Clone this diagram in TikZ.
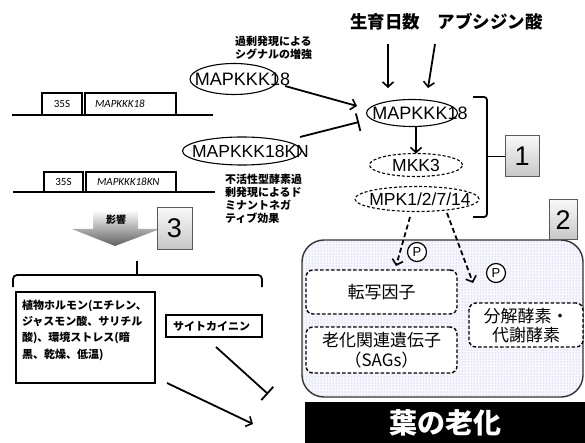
\documentclass[tikz,border=0pt]{standalone}
\usepackage{fontspec}
\setmainfont{Liberation Sans}
\newfontfamily\jp{Noto Sans CJK JP}
\newfontfamily\calf{Carlito}
\usetikzlibrary{arrows.meta,shapes.geometric,patterns}
\begin{document}
\begin{tikzpicture}[x=1pt,y=-1pt,
  every node/.style={inner sep=0pt,outer sep=0pt},
  arr/.style={line width=1.8pt,-{Straight Barb[length=5pt,width=11pt,line width=1.6pt]}},
  inh/.style={line width=1.8pt,-{Bar[width=18pt,line width=1.8pt]}},
  darr/.style={arr,dash pattern=on 5pt off 3pt},
  ell/.style={draw,ellipse,line width=1.1pt},
  dell/.style={ell,dash pattern=on 3pt off 2pt},
  numbox/.style={draw=black!65,line width=1pt,top color=gray!5,bottom color=gray!45,font=\fontsize{27}{27}\selectfont},
  gbox/.style={draw,line width=1.5pt,fill=white},
  gtxt/.style={font=\calf\fontsize{11}{11}\selectfont},
  kin/.style={font=\fontsize{17.5}{17.5}\selectfont},
  note/.style={align=left,font=\jp\bfseries\fontsize{11}{13}\selectfont},
  dbox/.style={draw,line width=1.4pt,dash pattern=on 3.5pt off 2pt,rounded corners=7pt,fill=white},
  jtx/.style={font=\jp\fontsize{17}{20}\selectfont,align=center},
  pc/.style={draw,circle,line width=1.2pt,minimum size=19pt,font=\fontsize{13}{13}\selectfont}
]
\useasboundingbox (0,0) rectangle (585,443);
\fill[white] (0,0) rectangle (585,443);

% title
\node[font=\jp\bfseries\fontsize{17.5}{17.5}\selectfont] (gd) at (385,22) {生育日数};
\node[font=\jp\bfseries\fontsize{17.5}{17.5}\selectfont] (aba) at (490,22) {アブシジン酸};
\coordinate (a1s) at (388,44); \coordinate (a1e) at (388,88);
\coordinate (a2s) at (435,44); \coordinate (a2e) at (428,88);
\draw[arr] (a1s) -- (a1e);
\draw[arr] (a2s) -- (a2e);

% gene constructs
\coordinate (l1a) at (12,115); \coordinate (l1b) at (213,115);
\draw[line width=2pt] (l1a) -- (l1b);
\node[gbox,minimum width=40pt,minimum height=22pt] (p35a) at (62,104) {};
\node[gtxt] at (p35a) {35S};
\node[gbox,minimum width=91pt,minimum height=22pt] (g18) at (130.5,104) {};
\node[gtxt,anchor=west] at (95,104) {\itshape MAPKKK18};

\coordinate (l2a) at (13,192); \coordinate (l2b) at (215,192);
\draw[line width=2pt] (l2a) -- (l2b);
\node[gbox,minimum width=39pt,minimum height=20pt] (p35b) at (63.5,182) {};
\node[gtxt] at (p35b) {35S};
\node[gbox,minimum width=90pt,minimum height=20pt] (g18kn) at (131,182) {};
\node[gtxt,anchor=west] at (97,182) {\itshape MAPKKK18KN};

% left ellipses
\node[ell,minimum width=88pt,minimum height=31pt] (k18L) at (234,79) {};
\node[kin,font=\fontsize{18}{18}\selectfont] (k18Lt) at (242.5,79) {MAPKKK18};
\node[note,anchor=west] (n1) at (235,48) {過剰発現による\\シグナルの増強};

\node[ell,minimum width=119pt,minimum height=28pt] (kn) at (242,151) {};
\node[kin] (knt) at (250.5,151) {MAPKKK18KN};
\node[note,anchor=west] (n2) at (225,198.5) {不活性型酵素過\\剰発現によるド\\ミナントネガ\\ティブ効果};

% cascade
\node[ell,minimum width=91pt,minimum height=27pt] (k18) at (412,113) {};
\node[kin,font=\fontsize{18}{18}\selectfont] (k18t) at (420,113) {MAPKKK18};
\node[dell,minimum width=93pt,minimum height=23pt] (mkk) at (416,165) {};
\node[kin] at (mkk) {MKK3};
\node[dell,minimum width=124pt,minimum height=25pt] (mpk) at (417,199) {};
\node[kin] at (420,199) {MPK1/2/7/14};

\coordinate (s1) at (285,86); \coordinate (e1) at (357,106);
\draw[arr] (s1) -- (e1);
\coordinate (s2) at (300,137); \coordinate (e2) at (359,122);
\draw[inh] (s2) -- (e2);
\draw[arr] (k18.south) ++(4,0) coordinate (km) -- (mkk.north -| km);

% bracket 1
\node[numbox,minimum width=34pt,minimum height=41pt] (b1) at (522,156.5) {1};
\draw[line width=1.8pt,rounded corners=3pt] (473,97) -- (487,97) -- (487,217) -- (473,217);
\draw[line width=1.8pt] (b1.west) -- (487,156.5);

% big box
\fill[blue!3,rounded corners=22pt] (302,240) rectangle (583,397);
\path[pattern=dots,pattern color=blue!30!gray!55,rounded corners=22pt] (302,240) rectangle (583,397);
\draw[line width=1.4pt,black!80,rounded corners=22pt] (302,240) rectangle (583,397);
\node[numbox,minimum width=28pt,minimum height=40pt] (b2) at (563,220) {2};

\node[dbox,minimum width=151pt,minimum height=44pt] (tf) at (381.5,292) {};
\node[jtx] at (tf) {転写因子};
\node[dbox,minimum width=151pt,minimum height=46pt] (sag) at (381.5,350) {};
\node[jtx] at (sag) {老化関連遺伝子\\（SAGs）};
\node[dbox,minimum width=114pt,minimum height=44pt] (enz) at (526,325) {};
\node[jtx,font=\jp\fontsize{17}{19}\selectfont] at (526,326) {分解酵素・\\代謝酵素};

\coordinate (d1s) at (410,217); \coordinate (d1e) at (396,266);
\draw[darr] (d1s) -- (d1e);
\coordinate (d2s) at (447,213); \coordinate (d2e) at (473,283);
\draw[darr] (d2s) -- (d2e);
\node[pc,fill=white] (p1) at (417,252) {P};
\node[pc,fill=white] (p2) at (496,273) {P};

% leaf senescence
\node[fill=black,minimum width=280pt,minimum height=41pt] (leaf) at (445,422.5) {};
\node[font=\jp\bfseries\fontsize{28}{28}\selectfont,text=white] at (445,423) {葉の老化};

% influence arrow
\shade[top color=white,bottom color=gray!75!black] (93,210) -- (138,210) -- (138,229) -- (160,229) -- (115,246) -- (72,229) -- (93,229) -- cycle;
\node[font=\jp\bfseries\fontsize{10}{10}\selectfont] (ei) at (116,220) {影響};
\node[numbox,minimum width=35pt,minimum height=41pt] (b3) at (174.5,228.5) {3};

% brace bottom left
\draw[line width=1.8pt,rounded corners=4pt] (13,287) -- (13,275) -- (262,275) -- (262,287);
\draw[line width=1.8pt] (137,275) -- (137,261);

\node[draw,line width=1.6pt,minimum width=139pt,minimum height=91pt] (hb) at (85.5,337.5) {};
\node[note,anchor=west,font=\jp\bfseries\fontsize{11}{16.3}\selectfont] at (22,330) {植物ホルモン(エチレン、\\ジャスモン酸、サリチル\\酸)、環境ストレス(暗\\黒、乾燥、低温)};
\node[draw,line width=1.6pt,minimum width=96pt,minimum height=22pt] (ck) at (214,326) {};
\node[note,anchor=west] at (173,326) {サイトカイニン};

\coordinate (h1s) at (167,383); \coordinate (h1e) at (253,424);
\draw[arr] (h1s) -- (h1e);
\coordinate (c1s) at (216,347); \coordinate (c1e) at (268,394);
\draw[inh] (c1s) -- (c1e);
\end{tikzpicture}
\end{document}
